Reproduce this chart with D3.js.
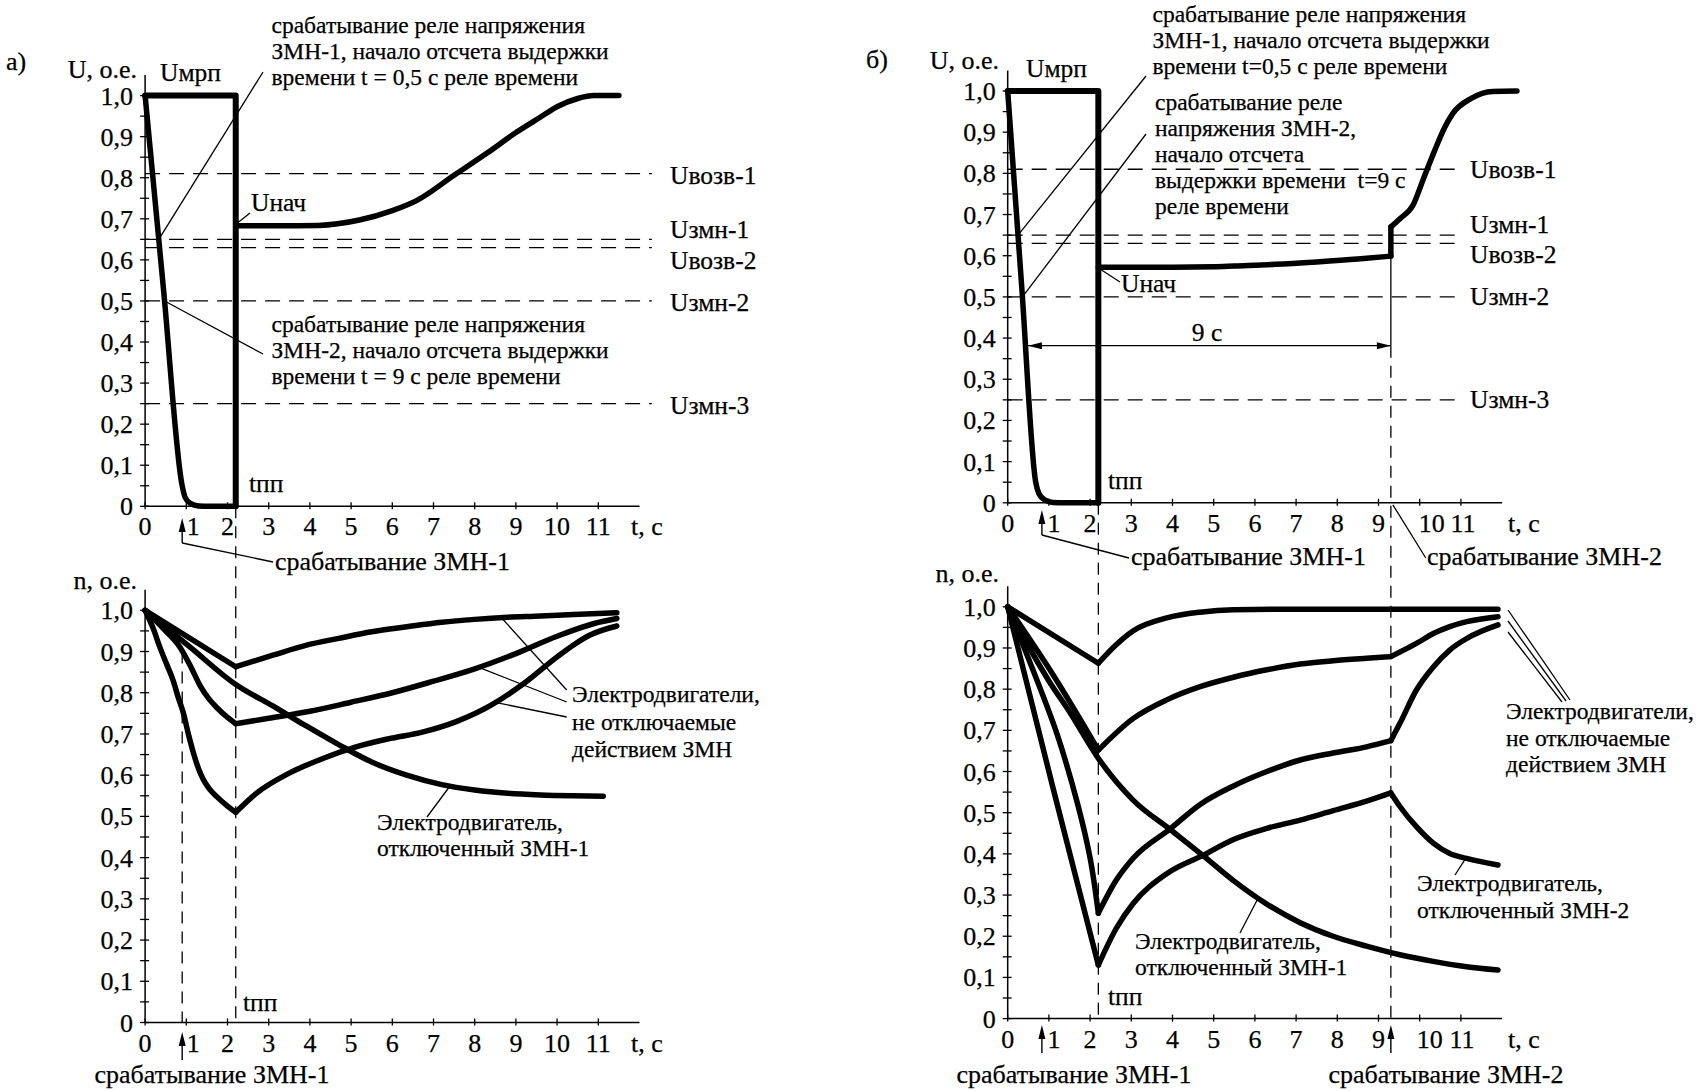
<!DOCTYPE html>
<html><head><meta charset="utf-8">
<script src="https://cdn.jsdelivr.net/npm/d3@7"></script>
<style>
body{margin:0;background:#fff}
svg{display:block;background:#fff}
</style>
</head><body>
<svg id="c" width="1697" height="1091" font-family="'Liberation Serif', 'DejaVu Serif', serif" font-size="24"></svg>
<script>
// ---------------- DATA ----------------
const tTicks = [0,1,2,3,4,5,6,7,8,9,10,11];
const vTicks = [0,0.1,0.2,0.3,0.4,0.5,0.6,0.7,0.8,0.9,1.0];
const vTickLabels = ["0","0,1","0,2","0,3","0,4","0,5","0,6","0,7","0,8","0,9","1,0"];
const levelValues = [0.81,0.65,0.63,0.5,0.25];
const levelNames = ["Uвозв-1","Uзмн-1","Uвозв-2","Uзмн-2","Uзмн-3"];
const tPP = 2.2;
const aTrip1 = 0.9;
const bTrip1 = 0.83;
const bTrip2 = 9.3;
const bDelayLevel = 0.3815;

// panel a, voltage
const aUrect = [[0,1],[2.2,1],[2.2,0]];
const aUfall = [[0,1],[0.45,0.525],[0.9,0.05],[0.97,0.022],[1.1,0.007],[1.3,0.001],[1.55,0],[2.2,0]];
const aUrise = [[2.2,0.683],[3.2,0.683],[4.2,0.684],[5.2,0.697],[6.0,0.72],[6.6,0.745],[7.5,0.806],[8.3,0.86],[9.0,0.91],[9.6,0.948],[10.0,0.973],[10.5,0.993],[10.9,1.0],[11.5,1.0]];

// panel a, speed
const aN1down = [[0,1],[2.2,0.863]];
const aN1up = [[2.2,0.863],[3.1,0.891],[3.9,0.915],[4.7,0.932],[5.5,0.948],[6.35,0.96],[7.2,0.971],[8,0.978],[8.8,0.983],[9.6,0.986],[10.4,0.99],[11.45,0.994]];
const aN2down = [[0,1],[0.45,0.955],[0.85,0.91],[1.1,0.865],[1.33,0.818],[1.55,0.785],[1.75,0.763],[2.0,0.74],[2.2,0.725]];
const aN2up = [[2.2,0.725],[3,0.738],[4,0.755],[5,0.777],[6,0.8],[7,0.828],[8,0.858],[9,0.895],[10,0.937],[10.9,0.968],[11.45,0.98]];
const aN3down = [[0,1],[0.2,0.955],[0.36,0.91],[0.52,0.87],[0.68,0.83],[0.8,0.79],[0.93,0.75],[1.05,0.7],[1.17,0.655],[1.3,0.615],[1.41,0.59],[1.55,0.568],[1.74,0.548],[2.0,0.525],[2.2,0.51]];
const aN3up = [[2.2,0.51],[2.7,0.556],[3.5,0.605],[4.3,0.64],[5.1,0.668],[5.9,0.688],[6.75,0.705],[7.55,0.73],[8.4,0.77],[9.2,0.823],[10,0.887],[10.4,0.916],[10.8,0.94],[11.45,0.962]];
const aN4 = [[0,1],[1.1,0.91],[2.2,0.82],[3.1,0.768],[3.9,0.72],[4.7,0.674],[5.5,0.632],[6.35,0.6],[7.2,0.577],[8,0.564],[8.8,0.556],[9.6,0.552],[10.4,0.55],[11.12,0.549]];

// panel b, voltage
const bUrect = [[0,1],[2.2,1],[2.2,0]];
const bUfall = [[0,1],[0.34,0.525],[0.68,0.05],[0.76,0.022],[0.9,0.007],[1.1,0.001],[1.4,0],[2.2,0]];
const bUlow = [[2.2,0.572],[3,0.572],[4,0.572],[5,0.573],[5.5,0.575],[6.5,0.579],[7.5,0.585],[8.5,0.592],[9.3,0.599]];
const bUstep = [[9.3,0.599],[9.3,0.67]];
const bUrise = [[9.3,0.67],[9.52,0.69],[9.84,0.723],[10.08,0.784],[10.37,0.857],[10.6,0.91],[10.8,0.945],[11.25,0.982],[11.77,0.999],[12.36,1.0]];

// panel b, speed
const bN1down = [[0,1],[2.2,0.863]];
const bN1up = [[2.2,0.863],[2.6,0.905],[3.05,0.942],[3.86,0.973],[4.67,0.987],[5.48,0.993],[6.5,0.994],[11.9,0.994]];
const bN2down = [[0,1],[1.1,0.835],[2.2,0.652]];
const bN2up = [[2.2,0.652],[3.05,0.729],[3.86,0.774],[4.67,0.806],[5.48,0.829],[6.29,0.847],[7.1,0.861],[7.9,0.869],[8.71,0.875],[9.3,0.879]];
const bN2late = [[9.3,0.879],[9.92,0.911],[10.33,0.935],[10.73,0.952],[11.14,0.964],[11.9,0.976]];
const bN3down = [[0,1],[0.6,0.85],[1.2,0.69],[1.7,0.52],[2.0,0.39],[2.2,0.256]];
const bN3up = [[2.2,0.256],[2.64,0.337],[3.05,0.39],[3.96,0.462],[4.67,0.52],[5.48,0.565],[6.29,0.6],[7.1,0.628],[7.9,0.645],[8.71,0.66],[9.3,0.675]];
const bN3late = [[9.3,0.675],[9.52,0.717],[9.92,0.798],[10.33,0.854],[10.73,0.895],[11.14,0.923],[11.9,0.956]];
const bN4down = [[0,1],[1.1,0.56],[2.2,0.13]];
const bN4up = [[2.2,0.13],[2.64,0.22],[3.05,0.28],[3.86,0.352],[4.75,0.397],[5.48,0.435],[6.29,0.462],[7.1,0.482],[7.9,0.505],[8.71,0.528],[9.3,0.548]];
const bN4late = [[9.3,0.548],[9.52,0.515],[9.92,0.466],[10.33,0.426],[10.73,0.401],[11.14,0.389],[11.9,0.373]];
const bN5 = [[0,1],[0.5,0.905],[1,0.82],[1.5,0.745],[2.2,0.632],[3.05,0.53],[3.96,0.458],[4.75,0.395],[5.48,0.335],[6.29,0.278],[7.1,0.233],[7.9,0.2],[8.71,0.176],[9.52,0.155],[10.33,0.139],[11.14,0.126],[11.9,0.118]];

// ---------------- DRAWING ----------------
const svg = d3.select('#c');
const FONT = "'Liberation Serif', 'DejaVu Serif', serif";
const xA = d3.scaleLinear().domain([0,12]).range([145.1,639.5]);
const xB = d3.scaleLinear().domain([0,12]).range([1007.7,1502.1]);
const yAU = d3.scaleLinear().domain([0,1]).range([506.3,95.6]);
const yAN = d3.scaleLinear().domain([0,1]).range([1022.5,610.3]);
const yBU = d3.scaleLinear().domain([0,1]).range([502.8,91.0]);
const yBN = d3.scaleLinear().domain([0,1]).range([1018.6,606.8]);
const FS_NOTE = 23.5, FS_TICK = 26, FS_LBL = 25.5, FS_TRIP = 26;

function txt(x,y,s,anchor,size){
  return svg.append('text').attr('x',x).attr('y',y).attr('text-anchor',anchor||'start')
    .attr('font-family',FONT).attr('font-size',size||FS_NOTE).attr('fill','#000')
    .attr('stroke','#000').attr('stroke-width',0.25).text(s);
}
function ln(x1,y1,x2,y2,w,dash){ const l=svg.append('line').attr('x1',x1).attr('y1',y1).attr('x2',x2).attr('y2',y2).attr('stroke','#000').attr('stroke-width',w||1.3); if(dash) l.attr('stroke-dasharray',dash); return l; }
function curve(x,y,pts,type,w){
  svg.append('path').attr('d',d3.line().x(d=>x(d[0])).y(d=>y(d[1])).curve(type||d3.curveMonotoneX)(pts))
    .attr('fill','none').attr('stroke','#000').attr('stroke-width',w||5.5).attr('stroke-linejoin','round').attr('stroke-linecap','round');
}
function interp(pts,t){
  for(let i=0;i<pts.length-1;i++){const a=pts[i],b=pts[i+1]; if(t>=a[0]&&t<=b[0]){return a[1]+(b[1]-a[1])*(t-a[0])/(b[0]-a[0]||1);} }
  return pts[pts.length-1][1];
}
function tAt(pts,v){
  for(let i=0;i<pts.length-1;i++){const a=pts[i],b=pts[i+1]; if((v<=a[1]&&v>=b[1])||(v>=a[1]&&v<=b[1])){return a[0]+(b[0]-a[0])*(v-a[1])/(b[1]-a[1]||1);} }
  return pts[0][0];
}
function arrowUp(x,yTip,yBot){
  ln(x,yBot,x,yTip+8,1.4);
  svg.append('path').attr('d',`M${x},${yTip} L${x-3.5},${yTip+14} L${x+3.5},${yTip+14} Z`).attr('fill','#000');
}
function arrowH(xTip,y,dir){
  svg.append('path').attr('d',`M${xTip},${y} L${xTip-dir*14},${y-3.5} L${xTip-dir*14},${y+3.5} Z`).attr('fill','#000');
}
function axes(x,y,shift){
  ln(x(0),y(0),x(0),y(1.05),1.5);
  ln(x(0),y(0),x(12),y(0),1.5);
  d3.range(0,21).forEach(i=>{const v=i*0.05; ln(x(0)-5,y(v),x(0)+4,y(v),1.3);});
  vTicks.forEach((v,i)=>txt(x(0)-12,y(v)+9,vTickLabels[i],'end',FS_TICK));
  tTicks.forEach(t=>ln(x(t),y(0)-4,x(t),y(0)+3,1.3));
  tTicks.forEach(t=>txt(x(t)+(shift[t]||0),y(0)+29,String(t),'middle',FS_TICK));
}

// ---- axes
axes(xA,yAU,{1:7});
axes(xA,yAN,{1:7});
axes(xB,yBU,{1:5,10:12,11:2});
axes(xB,yBN,{1:5,10:10,11:1});
txt(631,yAU(0)+29,'t, с','start',FS_TICK); txt(631,yAN(0)+29,'t, с','start',FS_TICK);
txt(1508,yBU(0)+29,'t, с','start',FS_TICK); txt(1508,yBN(0)+29,'t, с','start',FS_TICK);

// ---- level dashed lines
const nudgeA=[10,-1,21,10,10], nudgeB=[9,-2,20,8,8];
levelValues.forEach((v,i)=>{
  ln(xA(0),yAU(v),xA(12.3),yAU(v),1.3,'15,9');
  txt(670,yAU(v)+nudgeA[i],levelNames[i],'start',FS_LBL);
  ln(xB(0),yBU(v),xB(11.02),yBU(v),1.3,'15,9');
  txt(1470,yBU(v)+nudgeB[i],levelNames[i],'start',FS_LBL);
});

// ---- vertical marker lines
ln(xA(tPP),yAU(0),xA(tPP),yAN(0),1.3,'12,8');
ln(xA(aTrip1),yAN(0.9),xA(aTrip1),yAN(0),1.3,'12,8');
ln(xB(tPP),yBU(0),xB(tPP),yBN(0),1.3,'12,8');
ln(xB(bTrip2),yBU(0.599),xB(bTrip2),yBU(bDelayLevel),1.3);
ln(xB(bTrip2),yBU(bDelayLevel),xB(bTrip2),yBN(0),1.3,'12,8');

// ---- curves panel a
curve(xA,yAU,aUrect,d3.curveLinear,6);
curve(xA,yAU,aUfall);
curve(xA,yAU,aUrise);
[aN1down,aN2down,aN3down].forEach(p=>curve(xA,yAN,p, p.length>2?d3.curveMonotoneX:d3.curveLinear));
[aN1up,aN2up,aN3up,aN4].forEach(p=>curve(xA,yAN,p));

// ---- curves panel b
curve(xB,yBU,bUrect,d3.curveLinear,6);
curve(xB,yBU,bUfall);
curve(xB,yBU,bUlow);
curve(xB,yBU,bUstep,d3.curveLinear);
curve(xB,yBU,bUrise);
[bN1down,bN4down].forEach(p=>curve(xB,yBN,p,d3.curveLinear));
[bN2down,bN3down].forEach(p=>curve(xB,yBN,p,d3.curveCatmullRom));
[bN1up,bN2up,bN2late,bN3up,bN3late,bN4up,bN4late,bN5].forEach(p=>curve(xB,yBN,p));

// ---- panel a texts
txt(6,70,'а)','start',FS_TICK);
txt(137,78,'U, о.е.','end',FS_TICK);
txt(160,81,'Uмрп','start',FS_LBL);
[['срабатывание реле напряжения',33],['ЗМН-1, начало отсчета выдержки',59],['времени t = 0,5 с реле времени',85]].forEach(d=>txt(271.5,d[1],d[0]));
ln(263,72,xA(tAt(aUfall,0.65)),yAU(0.65),1.3);
txt(251,211,'Uнач','start',FS_LBL); ln(xA(tPP)+2,yAU(0.683)-3,250,213,1.3);
[['срабатывание реле напряжения',332],['ЗМН-2, начало отсчета выдержки',358],['времени t = 9 с реле времени',384]].forEach(d=>txt(271.5,d[1],d[0]));
ln(xA(tAt(aUfall,0.5)),yAU(0.5),263,354,1.3);
txt(249,492,'tпп','start',FS_LBL);
arrowUp(xA(aTrip1),518,543); ln(xA(aTrip1),543,273,562,1.3);
txt(275,570,'срабатывание ЗМН-1','start',FS_TRIP);

txt(137,589,'n, о.е.','end',FS_TICK);
[['Электродвигатели,',702],['не отключаемые',730],['действием ЗМН',757]].forEach(d=>txt(572,d[1],d[0]));
ln(xA(8.65),yAN(interp(aN1up,8.65)),566.7,690,1.3);
ln(xA(8.1),yAN(interp(aN2up,8.1)),566.7,702,1.3);
ln(xA(8.5),yAN(interp(aN3up,8.5)),566.7,717,1.3);
[['Электродвигатель,',830],['отключенный ЗМН-1',856]].forEach(d=>txt(377,d[1],d[0]));
ln(xA(7.4),yAN(interp(aN4,7.4)),427,817,1.3);
txt(243,1011,'tпп','start',FS_LBL);
arrowUp(xA(aTrip1),1032,1060);
txt(212,1083,'срабатывание ЗМН-1','middle',FS_TRIP);

// ---- panel b texts
txt(866,68,'б)','start',FS_TICK);
txt(999,69,'U, о.е.','end',FS_TICK);
txt(1026,77,'Uмрп','start',FS_LBL);
[['срабатывание реле напряжения',22.4],['ЗМН-1, начало отсчета выдержки',48.2],['времени t=0,5 с реле времени',74]].forEach(d=>txt(1152.5,d[1],d[0]));
ln(1146,76,xB(tAt(bUfall,0.65)),yBU(0.65),1.3);
[['срабатывание реле',110],['напряжения ЗМН-2,',136],['начало отсчета',162],['выдержки времени  t=9 с',188],['реле времени',214]].forEach(d=>txt(1155,d[1],d[0]).attr('xml:space','preserve').style('white-space','pre'));
ln(1146,134,xB(tAt(bUfall,0.5)),yBU(0.5),1.3);
txt(1121,292,'Uнач','start',FS_LBL); ln(xB(tPP)+2,yBU(0.572)+2,1120,282,1.3);
const xl = xB(tAt(bUfall,bDelayLevel))+2, xr = xB(bTrip2);
ln(xl,yBU(bDelayLevel),xr,yBU(bDelayLevel),1.3);
arrowH(xl,yBU(bDelayLevel),-1); arrowH(xr,yBU(bDelayLevel),1);
txt(1207,341,'9 с','middle',FS_LBL);
txt(1108,489,'tпп','start',FS_LBL);
arrowUp(xB(bTrip1),510,535); ln(xB(bTrip1),535,1129,558,1.3);
txt(1131,565,'срабатывание ЗМН-1','start',FS_TRIP);
ln(xB(bTrip2)+2,yBU(0)+2,1425.8,558,1.3);
txt(1427,565,'срабатывание ЗМН-2','start',FS_TRIP);

txt(999,582,'n, о.е.','end',FS_TICK);
[['Электродвигатели,',719],['не отключаемые',746],['действием ЗМН',772]].forEach(d=>txt(1506,d[1],d[0]));
ln(1508,610,1570,700,1.3); ln(1508,621,1566,701,1.3); ln(1508,632,1562,702,1.3);
[['Электродвигатель,',891],['отключенный ЗМН-2',918]].forEach(d=>txt(1417,d[1],d[0]));
ln(xB(11.12),yBN(interp(bN4late,11.12)),1455,875,1.3);
[['Электродвигатель,',949],['отключенный ЗМН-1',975]].forEach(d=>txt(1135,d[1],d[0]));
ln(xB(6.08),yBN(interp(bN5,6.08)),1240,933,1.3);
txt(1108,1005,'tпп','start',FS_LBL);
arrowUp(xB(bTrip1),1025,1053);
arrowUp(xB(bTrip2),1025,1053);
txt(1074,1083,'срабатывание ЗМН-1','middle',FS_TRIP);
txt(1446,1083,'срабатывание ЗМН-2','middle',FS_TRIP);
</script>
</body></html>
